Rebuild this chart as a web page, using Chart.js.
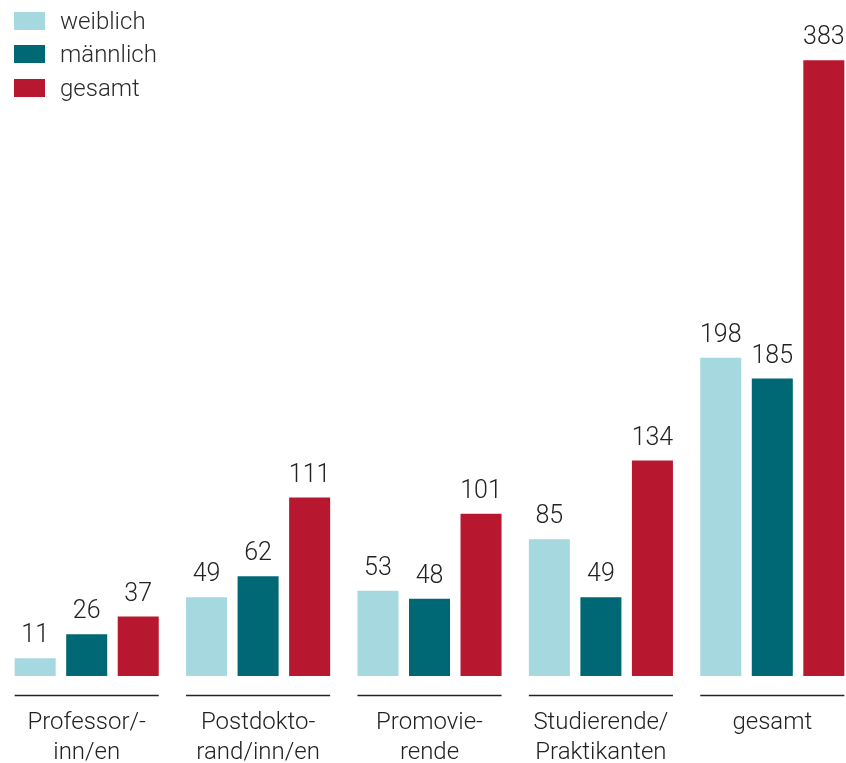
<!DOCTYPE html>
<html lang="de">
<head>
    <meta charset="UTF-8">
    <title>Personal nach Geschlecht</title>
    <script src="https://cdn.jsdelivr.net/npm/chart.js"></script>
    <style>
        html, body { margin: 0; padding: 0; overflow: hidden; background: #fff; }
        #wrap { position: relative; width: 846px; height: 763px; overflow: hidden; }
        #chart { position: absolute; left: 0; top: 0; }
        #legend { position: absolute; left: 14px; top: 4px; font-family: Roboto, "Liberation Sans", sans-serif; font-weight: 300; font-size: 24px; color: #2a2a2a; }
        .item { display: flex; align-items: center; height: 33.5px; }
        .box { width: 31px; height: 18px; margin-right: 15px; }
    </style>
</head>
<body>
<div id="wrap">
    <canvas id="chart" width="860" height="792"></canvas>
    <div id="legend"></div>
</div>
<script>
    const categories = [['Professor/-', 'inn/en'], ['Postdokto-', 'rand/inn/en'], ['Promovie-', 'rende'], ['Studierende/', 'Praktikanten'], 'gesamt'];
    const weiblich = [11, 49, 53, 85, 198];
    const maennlich = [26, 62, 48, 49, 185];
    const gesamt = [37, 111, 101, 134, 383];
    const seriesNames = ['weiblich', 'männlich', 'gesamt'];
    const seriesColors = ['#a6d9df', '#006874', '#b8182f'];

    const FONT = 'Roboto, "Liberation Sans", sans-serif';

    // HTML-Legende oben links
    const legend = document.getElementById('legend');
    seriesNames.forEach((name, i) => {
        legend.innerHTML += '<div class="item"><span class="box" style="background:' + seriesColors[i] + '"></span>' + name + '</div>';
    });

    // Werte über den Balken
    const valueLabels = {
        id: 'valueLabels',
        afterDatasetsDraw(chart) {
            const ctx = chart.ctx;
            ctx.save();
            ctx.font = '300 25px ' + FONT;
            ctx.fillStyle = '#222';
            ctx.textAlign = 'center';
            ctx.textBaseline = 'alphabetic';
            chart.data.datasets.forEach((ds, d) => {
                chart.getDatasetMeta(d).data.forEach((bar, i) => {
                    ctx.fillText(ds.data[i], bar.x, bar.y - 16);
                });
            });
            ctx.restore();
        }
    };

    // Linie unter jeder Gruppe
    const groupLines = {
        id: 'groupLines',
        afterDatasetsDraw(chart) {
            const ctx = chart.ctx;
            const first = chart.getDatasetMeta(0).data;
            const last = chart.getDatasetMeta(2).data;
            const y = chart.chartArea.bottom + 19.5;
            ctx.save();
            ctx.strokeStyle = '#222';
            ctx.lineWidth = 1.5;
            first.forEach((bar, i) => {
                ctx.beginPath();
                ctx.moveTo(bar.x - bar.width / 2, y);
                ctx.lineTo(last[i].x + last[i].width / 2, y);
                ctx.stroke();
            });
            ctx.restore();
        }
    };

    new Chart(document.getElementById('chart'), {
        type: 'bar',
        data: {
            labels: categories,
            datasets: [weiblich, maennlich, gesamt].map((values, i) => ({
                label: seriesNames[i],
                data: values,
                backgroundColor: seriesColors[i],
                categoryPercentage: 0.902,
                barPercentage: 0.796
            }))
        },
        options: {
            responsive: false,
            animation: false,
            layout: { padding: { top: 33, left: 1, right: 2, bottom: 0 } },
            plugins: { legend: { display: false }, tooltip: { enabled: false } },
            scales: {
                y: { display: false, min: 0, max: 400 },
                x: {
                    grid: { display: false },
                    border: { display: false },
                    ticks: {
                        color: '#222',
                        padding: 24,
                        font: { family: FONT, size: 24, weight: '300', lineHeight: 1.25 }
                    }
                }
            }
        },
        plugins: [valueLabels, groupLines]
    });
</script>
</body>
</html>
